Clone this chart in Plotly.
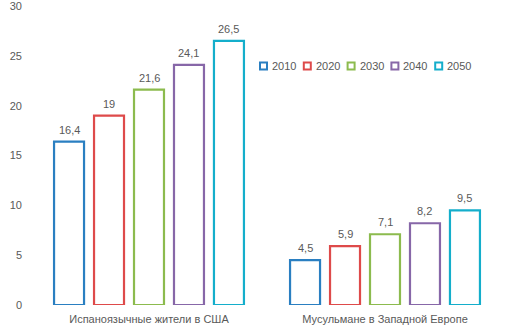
import plotly.graph_objects as go

categories = ["Испаноязычные жители в США", "Мусульмане в Западной Европе"]
years = ["2010", "2020", "2030", "2040", "2050"]
values = {
    "2010": [16.4, 4.5],
    "2020": [19.0, 5.9],
    "2030": [21.6, 7.1],
    "2040": [24.1, 8.2],
    "2050": [26.5, 9.5],
}
colors = ["#2A7FC1", "#DE4A4A", "#8CBB4E", "#8767A8", "#14AECB"]
y_ticks = [0, 5, 10, 15, 20, 25, 30]

TEXT = "#595959"
FONT = "Liberation Sans"


def fmt(v):
    return f"{v:g}".replace(".", ",")


W, H = 513, 336
ml, mr, mt, mb = 31, 10, 6, 31
pw, ph = W - ml - mr, H - mt - mb
BARGAP = 0.153
slot = pw / len(categories) * (1 - BARGAP) / len(years)

fig = go.Figure()
annotations = []
for i, (year, col) in enumerate(zip(years, colors)):
    vals = values[year]
    fig.add_trace(go.Bar(
        name=year,
        x=categories,
        y=vals,
        marker=dict(color="white", line=dict(color=col, width=2.2)),
        showlegend=False,
        hovertemplate="%{x}<br>" + year + ": %{y}<extra></extra>",
    ))
    # value labels above each bar
    for cat, v in zip(categories, vals):
        annotations.append(dict(
            x=cat, y=v, xref="x", yref="y",
            xshift=(i - (len(years) - 1) / 2) * slot, yshift=4,
            yanchor="bottom", text=fmt(v), showarrow=False,
            font=dict(color=TEXT, size=11, family=FONT)))

# Legend row: small outlined squares with year labels
shapes = []
leg_x0, leg_y, step = 259, 66, 43.8


def px(x):
    return (x - ml) / pw


def py(y):
    return (H - mb - y) / ph


for i, (year, col) in enumerate(zip(years, colors)):
    x0 = leg_x0 + i * step
    shapes.append(dict(type="rect", xref="paper", yref="paper",
                       x0=px(x0 + 1), x1=px(x0 + 8), y0=py(leg_y + 3.5), y1=py(leg_y - 3.5),
                       line=dict(color=col, width=2), fillcolor="white"))
    annotations.append(dict(xref="paper", yref="paper", x=px(x0 + 11), y=py(leg_y),
                            xanchor="left", yanchor="middle", text=year, showarrow=False,
                            font=dict(color=TEXT, size=11, family=FONT)))

fig.update_layout(
    width=W, height=H,
    margin=dict(l=ml, r=mr, t=mt, b=mb),
    paper_bgcolor="white", plot_bgcolor="white",
    barmode="group",
    bargap=BARGAP,
    bargroupgap=0.25,
    font=dict(family=FONT, color=TEXT, size=11),
    shapes=shapes,
    annotations=annotations,
    xaxis=dict(showline=False, showgrid=False, ticks="", zeroline=False,
               automargin=False, ticklabelstandoff=6,
               tickfont=dict(color=TEXT, size=11, family=FONT)),
    yaxis=dict(range=[0, 30], tickvals=y_ticks, showgrid=False, zeroline=False,
               showline=False, ticks="", ticklabelstandoff=8,
               automargin=False, ticklabeloverflow="allow",
               tickfont=dict(color=TEXT, size=11, family=FONT)),
)

fig.write_html("out.html")
